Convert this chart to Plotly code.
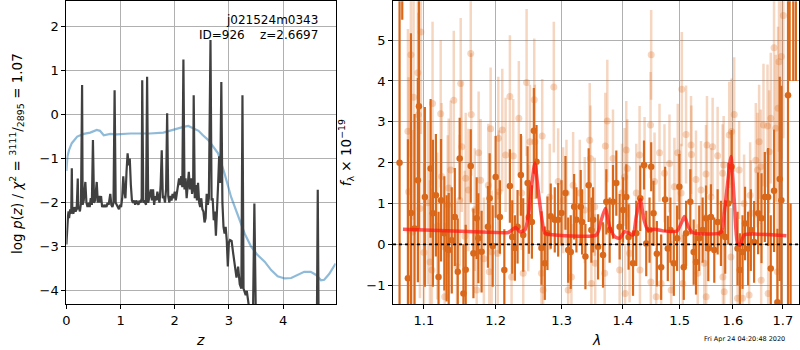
import numpy as np
import plotly.graph_objects as go

# ---------------- left panel: p(z) ----------------
z_pz = [0.00, 0.01, 0.02, 0.03, 0.04, 0.05, 0.06, 0.07, 0.08, 0.09, 0.10, 0.11, 0.13, 0.15, 0.17, 0.19,
        0.21, 0.22, 0.23, 0.25, 0.27, 0.29, 0.30, 0.32, 0.35, 0.37, 0.39, 0.41, 0.43, 0.45, 0.47, 0.49,
        0.51, 0.53, 0.56, 0.58, 0.60, 0.62, 0.64, 0.66, 0.68, 0.70, 0.72, 0.74, 0.76, 0.78, 0.81, 0.83,
        0.85, 0.87, 0.89, 0.91, 0.93, 0.95, 0.97, 0.99, 1.01, 1.03, 1.05, 1.07, 1.09, 1.11, 1.13, 1.15,
        1.17, 1.19, 1.21, 1.23, 1.25, 1.27, 1.29, 1.31, 1.33, 1.35, 1.37, 1.39, 1.40, 1.42, 1.44, 1.47,
        1.49, 1.51, 1.53, 1.56, 1.58, 1.60, 1.62, 1.64, 1.66, 1.68, 1.70, 1.72, 1.74, 1.76, 1.78, 1.80,
        1.82, 1.84, 1.86, 1.88, 1.90, 1.92, 1.94, 1.96, 1.98, 2.00, 2.02, 2.04, 2.06, 2.08, 2.10, 2.12,
        2.14, 2.16, 2.18, 2.20, 2.22, 2.24, 2.26, 2.28, 2.30, 2.32, 2.34, 2.35, 2.37, 2.39, 2.41, 2.43,
        2.45, 2.47, 2.49, 2.51, 2.53, 2.55, 2.57, 2.59, 2.61, 2.63, 2.66, 2.68, 2.70, 2.72, 2.74, 2.76,
        2.78, 2.80, 2.82, 2.84, 2.86, 2.88, 2.90, 2.92, 2.94, 2.96, 2.98, 3.00, 3.02, 3.05, 3.08, 3.11,
        3.14, 3.17, 3.20, 3.23, 3.25, 3.27, 3.29, 3.31, 3.33, 3.35, 3.38, 3.41, 3.44, 3.47, 3.50, 3.55,
        3.70, 3.90, 4.10, 4.30, 4.50, 4.62, 4.64, 4.66, 4.80, 4.97]
logp = [-2.95, -2.60, -2.40, -2.30, -2.20, -2.35, -2.25, -2.15, -2.25, -2.20, -1.22, -2.20, -2.25, -2.10, -2.20, -2.15,
        -1.45, -2.15, -2.10, -2.20, -2.00, 0.67, -2.05, -1.95, -1.53, -2.00, -2.10, -2.00, -2.10, -1.90, -2.05, -0.58,
        -2.00, -1.95, -1.53, -2.00, -1.85, -2.00, -1.85, -2.10, -2.05, -2.10, -2.05, -2.10, -2.00, -2.05, -1.80, -2.05,
        -2.10, -2.00, 0.55, -2.00, -2.05, -2.10, -2.15, -2.05, -2.10, -1.90, -1.40, -1.75, -1.90, -1.30, -0.88, -1.15,
        -1.00, -1.60, -1.95, -2.00, -1.95, -2.05, -1.95, -2.00, -2.05, -1.95, -2.00, -1.90, 0.78, -2.00, -1.95, -2.05,
        0.86, -2.00, -1.85, -1.70, -1.95, -1.70, -2.05, -1.85, -1.95, -1.75, -1.90, -2.00, -1.60, -0.81, -1.90, -1.85,
        -2.00, -1.70, 0.03, -1.85, -2.00, -1.85, -1.95, -1.80, -1.90, -1.75, -1.95, -1.80, -1.70, -1.45, -1.60, -1.40,
        -1.65, 1.25, -1.70, -1.45, -1.90, -1.50, -1.30, -1.70, -1.45, -1.80, -1.65, 0.44, -1.90, -1.60, -1.95, -1.55,
        -2.00, -2.10, -1.90, -2.15, -2.20, -2.45, -2.35, -1.80, -2.05, -1.90, 1.69, -1.95, -1.90, -2.40, -2.20, -2.75,
        -2.30, -1.60, -0.95, -1.55, 0.74, -2.00, -2.55, -2.70, -2.55, -2.85, -3.45, -2.90, -2.85, -2.87, -3.16, -3.40,
        -3.70, -3.45, -3.85, -3.95, 0.44, -3.95, -4.06, -4.10, -4.00, -4.20, -4.45, -4.80, -5.00, -2.02, -4.90, -5.50,
        -6.00, -6.50, -6.20, -6.50, -6.30, -5.50, -1.71, -5.50, -6.00, -6.00]

z_prior = [0.00, 0.02, 0.05, 0.10, 0.20, 0.32, 0.44, 0.56, 0.62, 0.69, 0.81, 0.93, 1.18, 1.54, 1.79, 1.97,
           2.16, 2.25, 2.34, 2.44, 2.52, 2.62, 2.80, 2.92, 3.04, 3.17, 3.29, 3.41, 3.53, 3.66, 3.78, 3.90,
           4.03, 4.15, 4.27, 4.39, 4.51, 4.61, 4.70, 4.76, 4.85, 4.97]
lp_prior = [-1.28, -0.95, -0.80, -0.65, -0.50, -0.44, -0.41, -0.35, -0.37, -0.47, -0.44, -0.45, -0.43, -0.43, -0.41, -0.34,
            -0.28, -0.26, -0.31, -0.37, -0.47, -0.58, -0.88, -1.34, -1.87, -2.32, -2.70, -3.00, -3.19, -3.34, -3.53, -3.67,
            -3.72, -3.71, -3.64, -3.57, -3.57, -3.64, -3.76, -3.75, -3.62, -3.38]

# ---------------- right panel: spectrum ----------------
lam_dark = [1.0680, 1.0715, 1.0789, 1.0828, 1.0876, 1.0920, 1.0934, 1.1013, 1.1090, 1.1121, 1.1161, 1.1197,
            1.1231, 1.1276, 1.1307, 1.1336, 1.1378, 1.1420, 1.1461, 1.1488, 1.1540, 1.1572, 1.1643, 1.1681,
            1.1727, 1.1751, 1.1797, 1.1888, 1.1913, 1.1957, 1.2000, 1.2062, 1.2127, 1.2209, 1.2244, 1.2283,
            1.2323, 1.2373, 1.2408, 1.2474, 1.2494, 1.2539, 1.2569, 1.2610, 1.2686, 1.2737, 1.2778, 1.2829,
            1.2892, 1.2945, 1.2997, 1.3060, 1.3103, 1.3144, 1.3198, 1.3235, 1.3304, 1.3326, 1.3380, 1.3433,
            1.3477, 1.3505, 1.3587, 1.3669, 1.3724, 1.3779, 1.3835, 1.3891, 1.3947, 1.4004, 1.4060, 1.4099,
            1.4175, 1.4231, 1.4300, 1.4365, 1.4404, 1.4462, 1.4491, 1.4532, 1.4591, 1.4667, 1.4738, 1.4786,
            1.4833, 1.4894, 1.4954, 1.4995, 1.5075, 1.5117, 1.5195, 1.5257, 1.5300, 1.5360, 1.5424, 1.5487,
            1.5530, 1.5580, 1.5643, 1.5707, 1.5770, 1.5852, 1.5910, 1.5975, 1.6091, 1.6136, 1.6188, 1.6238,
            1.6298, 1.6352, 1.6417, 1.6497, 1.6565, 1.6632, 1.6699, 1.6752, 1.6819, 1.6888, 1.6935, 1.6969,
            1.7106, 1.7140, 1.7160, 1.7215, 1.7270]
flux_dark = [2.00, 8.00, -0.83, 0.77, 0.39, 1.57, 3.38, 1.16, 1.86, 0.76, 1.20, -0.80,
             1.08, 0.27, -0.10, -0.14, 0.10, 0.67, -0.67, 2.10, -1.20, -0.62, 1.92, -0.22,
             0.64, 0.15, -0.18, 0.43, 1.13, -0.04, 1.65, 0.67, -0.63, 1.43, 0.18, -0.09,
             0.43, 1.70, 0.23, 1.50, 0.67, 0.55, 2.78, 2.02, -0.09, -0.46, 0.27, 0.69,
             0.60, 0.60, 0.77, 1.26, -0.14, -0.19, 0.92, 0.60, 0.92, 0.55, -0.30, 1.45,
             0.35, 0.60, -0.06, -0.26, 1.04, 0.35, 1.04, 1.50, 0.43, 0.84, 1.16, 0.18,
             -0.46, 0.27, 1.13, 1.94, 0.02, 0.35, 1.90, 0.76, -0.23, -0.56, 1.10, -0.10,
             0.35, -0.46, 0.15, 1.41, -0.56, 0.27, 1.04, -0.19, -0.43, 0.15, 0.35, 0.64,
             -0.10, 0.67, -0.14, 0.55, 0.27, 0.18, 1.00, 1.90, -0.10, -0.63, -0.19, 0.51,
             -0.10, 0.35, 0.06, 0.76, 0.64, 1.16, 1.16, -0.59, 1.31, -1.42, 1.60, 1.08,
             3.65, 8.00, -4.00, 8.00, 8.00]
err_dark = [9.0, 2.5, 3.4, 4.4, 2.8, 2.5, 3.0, 2.2, 1.7, 1.8, 1.5, 1.6,
            1.5, 1.4, 1.3, 1.4, 1.3, 1.2, 1.3, 1.0, 1.2, 1.1, 0.9, 1.1,
            1.0, 1.1, 1.0, 1.0, 1.1, 1.0, 1.0, 0.9, 1.0, 0.9, 0.9, 0.8,
            0.9, 1.0, 0.9, 0.9, 0.9, 0.9, 1.05, 0.9, 0.9, 0.9, 0.9, 0.8,
            0.8, 0.9, 0.8, 0.9, 0.8, 0.9, 0.8, 0.8, 0.9, 0.8, 0.8, 0.9,
            0.8, 0.8, 0.8, 0.8, 0.8, 0.8, 0.9, 0.8, 0.8, 0.8, 0.8, 0.8,
            0.8, 0.8, 0.8, 0.6, 0.8, 0.8, 0.6, 0.8, 0.8, 0.8, 0.8, 0.8,
            0.8, 0.8, 0.8, 0.8, 0.8, 0.8, 0.8, 0.8, 0.8, 0.8, 0.8, 0.8,
            0.8, 0.8, 0.8, 0.8, 0.8, 0.9, 1.0, 0.9, 0.9, 0.9, 0.9, 0.9,
            0.9, 1.0, 1.0, 1.0, 1.1, 1.1, 1.2, 1.3, 1.5, 1.8, 2.5, 2.8,
            6.0, 4.0, 5.0, 4.0, 4.0]

lam_light = [1.0789, 1.0798, 1.0828, 1.0850, 1.0863, 1.0920, 1.0927, 1.0947, 1.0960, 1.1000, 1.1054, 1.1081,
             1.1107, 1.1116, 1.1180, 1.1226, 1.1239, 1.1281, 1.1322, 1.1336, 1.1364, 1.1406, 1.1450, 1.1488,
             1.1502, 1.1516, 1.1560, 1.1572, 1.1610, 1.1643, 1.1650, 1.1700, 1.1727, 1.1755, 1.1783, 1.1830,
             1.1894, 1.1908, 1.1927, 1.1942, 1.2030, 1.2039, 1.2048, 1.2097, 1.2146, 1.2209, 1.2234, 1.2259,
             1.2342, 1.2383, 1.2408, 1.2459, 1.2484, 1.2509, 1.2575, 1.2584, 1.2686, 1.2697, 1.2712, 1.2814,
             1.2877, 1.2945, 1.3024, 1.3076, 1.3103, 1.3155, 1.3182, 1.3289, 1.3369, 1.3450, 1.3462, 1.3477,
             1.3532, 1.3540, 1.3696, 1.3707, 1.3740, 1.3835, 1.3947, 1.3987, 1.4031, 1.4040, 1.4060, 1.4077,
             1.4116, 1.4231, 1.4288, 1.4295, 1.4375, 1.4480, 1.4485, 1.4491, 1.4550, 1.4579, 1.4638, 1.4667,
             1.4726, 1.4816, 1.4846, 1.4905, 1.4966, 1.5026, 1.5039, 1.5057, 1.5117, 1.5208, 1.5215, 1.5300,
             1.5332, 1.5393, 1.5454, 1.5487, 1.5490, 1.5505, 1.5580, 1.5612, 1.5707, 1.5802, 1.5808, 1.5822,
             1.5833, 1.5929, 1.5962, 1.5975, 1.6026, 1.6091, 1.6122, 1.6188, 1.6219, 1.6318, 1.6338, 1.6352,
             1.6451, 1.6485, 1.6517, 1.6551, 1.6558, 1.6605, 1.6686, 1.6699, 1.6719, 1.6752, 1.6819, 1.6853,
             1.6888, 1.6900, 1.6920, 1.6969, 1.7010]
flux_light = [2.77, 1.29, 4.64, 0.30, 3.60, 4.20, 3.17, 0.88, 5.20, -0.20, 1.02, -0.43,
              -0.63, 3.45, 0.45, 3.20, 1.66, -1.28, 0.97, 1.38, 1.82, 3.53, -0.55, 1.08,
              3.94, 2.39, 0.20, 1.62, 1.33, 4.67, 3.18, 0.85, -1.12, 2.24, 1.57, -0.35,
              1.45, -0.67, 2.83, -0.18, -0.22, 2.60, 1.29, 2.80, 2.19, 3.62, -0.80, 2.16,
              3.09, 1.26, -0.71, 3.96, 0.64, 2.51, 3.54, 2.51, -0.71, 2.65, -1.12, 1.16,
              3.85, 1.54, 1.08, 1.26, -1.12, -0.80, 1.45, 1.26, 0.84, 2.55, 2.10, -0.96,
              0.92, -0.46, -0.71, 2.41, 3.02, 2.10, -0.63, 1.26, 1.65, -1.20, 2.31, 1.86,
              -0.22, 1.26, 2.19, -0.63, 1.92, 2.92, -0.92, 4.64, 1.54, -1.28, 2.24, -0.96,
              1.74, 1.98, -1.12, 1.41, 2.24, 1.26, 3.80, -0.96, 2.69, 2.43, 2.20, 1.59,
              -0.71, 1.33, -0.46, 1.72, -1.28, 2.43, 1.16, 2.39, 2.17, 1.74, -0.80, 1.94,
              -1.16, 2.68, -0.31, 2.76, 3.18, -1.32, 1.82, -1.32, 1.00, -1.24, 1.20, 0.76,
              2.06, 1.82, 2.51, 1.90, -0.88, 2.92, 2.90, -1.20, 2.27, 3.09, 4.81, 2.84,
              -0.67, 3.33, 4.47, 4.60, 5.60]
err_light = [2.5, 2.8, 2.5, 2.5, 3.0, 2.5, 2.5, 2.2, 2.5, 2.2, 2.0, 2.0,
             2.0, 2.0, 1.8, 1.8, 1.8, 1.8, 1.7, 1.7, 1.7, 1.7, 1.6, 1.6,
             1.6, 1.6, 1.6, 1.6, 1.5, 1.4, 1.5, 1.5, 1.5, 1.5, 1.5, 1.5,
             1.5, 1.5, 1.5, 1.5, 1.5, 1.5, 1.5, 1.5, 1.4, 1.5, 1.4, 1.4,
             1.4, 1.4, 1.3, 1.8, 1.3, 1.4, 1.5, 1.4, 1.4, 1.4, 1.4, 1.3,
             1.6, 1.3, 1.3, 1.3, 1.3, 1.3, 1.3, 1.3, 1.3, 1.4, 1.3, 1.3,
             1.2, 1.2, 1.2, 1.3, 1.5, 1.2, 1.2, 1.2, 1.2, 1.2, 1.2, 1.2,
             1.2, 1.2, 1.2, 1.2, 1.2, 1.3, 1.2, 1.1, 1.2, 1.2, 1.2, 1.2,
             1.2, 1.2, 1.2, 1.2, 1.2, 1.2, 1.4, 1.2, 1.2, 1.2, 1.2, 1.2,
             1.2, 1.2, 1.2, 1.2, 1.2, 1.2, 1.2, 1.2, 1.2, 1.2, 1.2, 1.2,
             1.2, 1.3, 1.2, 1.3, 1.4, 1.2, 1.2, 1.2, 1.2, 1.3, 1.3, 1.3,
             1.4, 1.4, 1.4, 1.4, 1.4, 1.5, 1.5, 1.5, 1.5, 1.6, 2.0, 1.8,
             2.0, 2.0, 2.2, 2.5, 3.0]

lam_model = [1.0724, 1.1400, 1.2013, 1.2185, 1.2293, 1.2357, 1.2432, 1.2484, 1.2534, 1.2584, 1.2635, 1.2686,
             1.2737, 1.2789, 1.3559, 1.3641, 1.3707, 1.3779, 1.3863, 1.3947, 1.4031, 1.4099, 1.4175, 1.4231,
             1.4300, 1.4365, 1.4434, 1.4550, 1.4697, 1.4954, 1.5026, 1.5087, 1.5159, 1.5240, 1.5770, 1.5833,
             1.5898, 1.5962, 1.6026, 1.6091, 1.6142, 1.6219, 1.6485, 1.7073]
flux_model = [0.37, 0.33, 0.29, 0.29, 0.41, 0.31, 0.35, 0.68, 1.41, 1.99, 1.33, 0.68,
              0.27, 0.25, 0.23, 0.60, 0.88, 0.43, 0.19, 0.15, 0.31, 0.28, 0.23, 0.68,
              1.10, 0.60, 0.35, 0.37, 0.33, 0.33, 0.51, 0.68, 0.43, 0.29, 0.29, 0.76,
              1.50, 2.15, 1.09, 0.02, -0.02, 0.23, 0.25, 0.21]

x_ticks_right = [1.1, 1.2, 1.3, 1.4, 1.5, 1.6, 1.7]
y_ticks_right = [-1, 0, 1, 2, 3, 4, 5]
x_ticks_left = [0, 1, 2, 3, 4]
y_ticks_left = [-4, -3, -2, -1, 0, 1, 2]

DARK = "rgb(217,104,26)"
LIGHT = "rgba(217,104,26,0.27)"
FONT = "DejaVu Sans"

fig = go.Figure()

fig.add_trace(go.Scatter(x=z_prior, y=lp_prior, mode="lines",
                         line=dict(color="rgba(31,119,180,0.5)", width=2.2),
                         xaxis="x", yaxis="y", showlegend=False, hoverinfo="skip"))
fig.add_trace(go.Scatter(x=z_pz, y=logp, mode="lines",
                         line=dict(color="rgb(64,64,64)", width=2.2),
                         xaxis="x", yaxis="y", showlegend=False, hoverinfo="skip"))

fig.add_trace(go.Scatter(x=lam_light, y=flux_light, mode="markers",
                         marker=dict(color=LIGHT, size=7, line=dict(width=0)),
                         error_y=dict(type="data", array=err_light, color=LIGHT, thickness=2.5, width=0),
                         xaxis="x2", yaxis="y2", showlegend=False, hoverinfo="skip"))
fig.add_trace(go.Scatter(x=lam_dark, y=flux_dark, mode="markers",
                         marker=dict(color=DARK, size=6.5, line=dict(width=0)),
                         error_y=dict(type="data", array=err_dark, color=DARK, thickness=2.2, width=0),
                         xaxis="x2", yaxis="y2", showlegend=False, hoverinfo="skip"))
fig.add_trace(go.Scatter(x=lam_model, y=flux_model, mode="lines",
                         line=dict(color="rgba(255,20,20,0.7)", width=3.5, shape="spline", smoothing=0.6),
                         xaxis="x2", yaxis="y2", showlegend=False, hoverinfo="skip"))

ydom = [1 - 304 / 350, 1 - 1.3 / 350]
axis_common = dict(showline=True, mirror=True, linecolor="black", linewidth=1,
                   showgrid=True, gridcolor="#b0b0b0", gridwidth=1,
                   ticks="outside", ticklen=4, tickwidth=1, tickcolor="black",
                   tickfont=dict(family=FONT, size=13, color="black"), zeroline=False)

fig.update_layout(
    width=800, height=350, margin=dict(l=0, r=0, t=0, b=0),
    paper_bgcolor="white", plot_bgcolor="white",
    font=dict(family=FONT, color="black"),
    xaxis=dict(domain=[62.7 / 800, 333.3 / 800], range=[0, 4.97], tickvals=x_ticks_left,
               anchor="y", **axis_common),
    yaxis=dict(domain=ydom, range=[-4.30, 2.57], tickvals=y_ticks_left, anchor="x", **axis_common),
    xaxis2=dict(domain=[391 / 800, 799.2 / 800], type="log",
                range=[np.log10(1.0596), np.log10(1.734)],
                tickvals=x_ticks_right, ticktext=[f"{v:.1f}" for v in x_ticks_right],
                anchor="y2", **axis_common),
    yaxis2=dict(domain=ydom, range=[-1.46, 5.95], tickvals=y_ticks_right, anchor="x2", **axis_common),
    shapes=[dict(type="line", xref="x2 domain", yref="y2", x0=0, x1=1, y0=0, y1=0,
                 line=dict(color="black", width=1.6, dash="dot"), layer="above")],
)

ann_font = dict(family=FONT, size=12, color="black")
fig.add_annotation(text="j021524m0343", x=317.5 / 800, y=1 - 20 / 350, xref="paper", yref="paper",
                   xanchor="right", yanchor="middle", showarrow=False, font=ann_font)
fig.add_annotation(text="ID=926\u00a0\u00a0\u00a0\u00a0z=2.6697", x=317.5 / 800, y=1 - 35 / 350,
                   xref="paper", yref="paper", xanchor="right", yanchor="middle", showarrow=False, font=ann_font)
fig.add_annotation(text="log <i>p</i>(<i>z</i>) / <i>χ</i><sup>2</sup> = <sup>3111</sup>/<sub>2895</sub> = 1.07",
                   x=13 / 800, y=1 - 153 / 350, xref="paper", yref="paper", textangle=-90,
                   xanchor="center", yanchor="middle", showarrow=False,
                   font=dict(family=FONT, size=13.5, color="black"))
fig.add_annotation(text="<i>f</i><sub>λ</sub> × 10<sup>−19</sup>",
                   x=344 / 800, y=1 - 153 / 350, xref="paper", yref="paper", textangle=-90,
                   xanchor="center", yanchor="middle", showarrow=False,
                   font=dict(family=FONT, size=13.5, color="black"))
fig.add_annotation(text="<i>z</i>", x=197 / 800, y=1 - 340 / 350, xref="paper", yref="paper",
                   xanchor="center", yanchor="middle", showarrow=False,
                   font=dict(family=FONT, size=14, color="black"))
fig.add_annotation(text="<i>λ</i>", x=595 / 800, y=1 - 340 / 350, xref="paper", yref="paper",
                   xanchor="center", yanchor="middle", showarrow=False,
                   font=dict(family=FONT, size=14, color="black"))
fig.add_annotation(text="Fri Apr 24 04:20:48 2020", x=787 / 800, y=1 - 339 / 350, xref="paper", yref="paper",
                   xanchor="right", yanchor="middle", showarrow=False,
                   font=dict(family=FONT, size=6.5, color="black"))

fig.write_html("out.html", config={"displayModeBar": False},
               post_script="document.body.style.margin='0';document.body.style.padding='0';")
